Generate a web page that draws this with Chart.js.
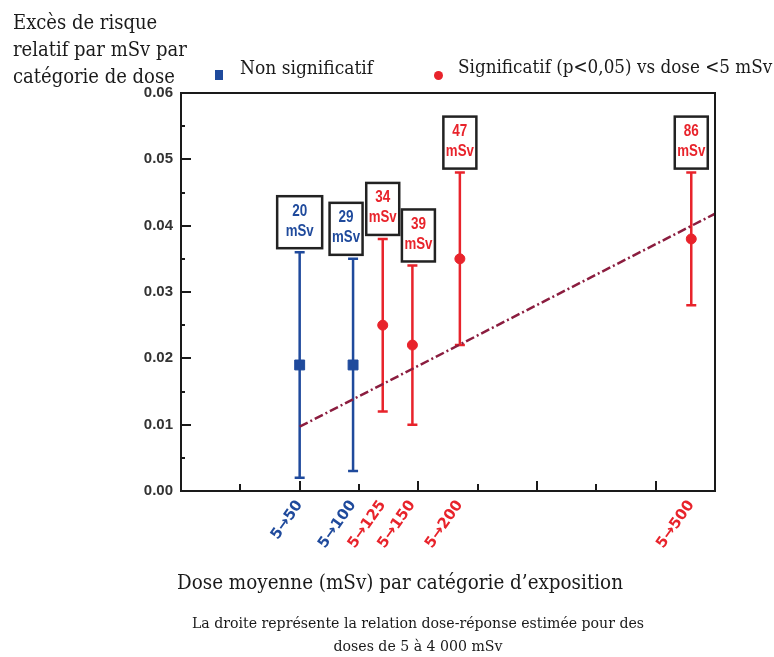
<!DOCTYPE html>
<html>
<head>
<meta charset="utf-8">
<script src="https://cdn.jsdelivr.net/npm/chart.js@4/dist/chart.umd.min.js"></script>
<style>
  body { margin: 0; background: #fff; overflow: hidden; }
  #wrap { position: relative; width: 774px; height: 657px; }
  canvas { position: absolute; left: 0; top: 0; }
  .txt { position: absolute; font-family: "DejaVu Serif Condensed", "DejaVu Serif", serif; font-stretch: condensed; color: #1a1a1a; white-space: nowrap; }
  #ytitle { left: 13px; top: 9px; font-size: 20px; line-height: 27px; }
  .leg { top: 56px; line-height: 22px; }
  .sw { position: absolute; }
  #xtitle { left: 100px; width: 600px; top: 568px; text-align: center; font-size: 20.4px; line-height: 28px; }
  #note { left: 118px; width: 600px; top: 611px; text-align: center; font-size: 15.7px; line-height: 23px; }
</style>
</head>
<body>
<div id="wrap">
  <canvas id="chart" width="774" height="657"></canvas>
  <div class="txt" id="ytitle">Excès de risque<br>relatif par mSv par<br>catégorie de dose</div>
  <div class="sw" style="left:215px;top:70px;width:8px;height:10px;background:#1f4a9c;"></div>
  <div class="txt leg" style="left:240px;font-size:19px;">Non significatif</div>
  <div class="sw" style="left:434px;top:71px;width:9px;height:9px;border-radius:50%;background:#e8232b;"></div>
  <div class="txt leg" style="left:458px;font-size:18.7px;">Significatif (p&lt;0,05) vs dose &lt;5 mSv</div>
  <div class="txt" id="xtitle">Dose moyenne (mSv) par catégorie d’exposition</div>
  <div class="txt" id="note">La droite représente la relation dose-réponse estimée pour des<br>doses de 5 à 4 000 mSv</div>
</div>
<script>
// mean dose per exposure category (mSv) and the category ranges
const meanDose = [20, 29, 34, 39, 47, 86];
const doseRange = ['5→50', '5→100', '5→125', '5→150', '5→200', '5→500'];
// excess relative risk per mSv, with lower / upper bounds
const errPerMsv = [0.019, 0.019, 0.025, 0.022, 0.035, 0.038];
const errLow = [0.002, 0.003, 0.012, 0.010, 0.022, 0.028];
const errHigh = [0.036, 0.035, 0.038, 0.034, 0.048, 0.048];
const significant = [false, false, true, true, true, true];
// estimated dose-response line (5 to 4000 mSv)
const fitDose = [20, 90];
const fitErr = [0.0097, 0.0418];

const BLUE = '#1f4a9c';
const RED = '#e8232b';
const INK = '#1a1a1a';

// box label nudges so neighbours don't overlap
const boxShift = [0, -7, 0, 6, 0, 0];
const boxWidth = [45, 33, 33, 33, 33, 33];

const pts = meanDose.map((d, i) => ({ x: d, y: errPerMsv[i] }));

const frameAndTicks = {
  id: 'frameAndTicks',
  afterDraw(chart) {
    const { ctx, chartArea: a, scales: { x, y } } = chart;
    ctx.save();
    ctx.strokeStyle = INK;
    ctx.lineWidth = 2;
    ctx.strokeRect(a.left, a.top, a.right - a.left, a.bottom - a.top);
    ctx.beginPath();
    for (let v = 10; v < 90; v += 10) {
      const px = Math.round(x.getPixelForValue(v));
      const len = v % 20 === 0 ? 10 : 7;
      ctx.moveTo(px, a.bottom);
      ctx.lineTo(px, a.bottom - len);
    }
    for (let k = 1; k < 12; k++) {
      const py = Math.round(y.getPixelForValue(k * 0.005));
      const len = k % 2 === 0 ? 10 : 4;
      ctx.moveTo(a.left, py);
      ctx.lineTo(a.left + len, py);
    }
    ctx.stroke();
    ctx.restore();
  }
};

const errorBars = {
  id: 'errorBars',
  beforeDatasetsDraw(chart) {
    const { ctx, scales: { x, y } } = chart;
    ctx.save();
    ctx.lineWidth = 2.5;
    meanDose.forEach((d, i) => {
      const px = x.getPixelForValue(d);
      const top = y.getPixelForValue(errHigh[i]);
      const bot = y.getPixelForValue(errLow[i]);
      ctx.strokeStyle = significant[i] ? RED : BLUE;
      ctx.beginPath();
      ctx.moveTo(px, top); ctx.lineTo(px, bot);
      ctx.moveTo(px - 5, top); ctx.lineTo(px + 5, top);
      ctx.moveTo(px - 5, bot); ctx.lineTo(px + 5, bot);
      ctx.stroke();
    });
    ctx.restore();
  }
};

const doseBoxes = {
  id: 'doseBoxes',
  afterDatasetsDraw(chart) {
    const { ctx, scales: { x, y } } = chart;
    ctx.save();
    ctx.textAlign = 'center';
    ctx.textBaseline = 'middle';
    ctx.font = 'bold 16px "Liberation Sans", Arial, sans-serif';
    meanDose.forEach((d, i) => {
      const cx = x.getPixelForValue(d) + boxShift[i];
      const bottom = y.getPixelForValue(errHigh[i]) - 4;
      const w = boxWidth[i], h = 52;
      ctx.fillStyle = '#fff';
      ctx.fillRect(cx - w / 2, bottom - h, w, h);
      ctx.lineWidth = 2.5;
      ctx.strokeStyle = '#222';
      ctx.strokeRect(cx - w / 2, bottom - h, w, h);
      ctx.fillStyle = significant[i] ? RED : BLUE;
      ctx.fillText(String(d), cx, bottom - h + 15, 15);
      ctx.fillText('mSv', cx, bottom - h + 35, 28);
    });
    ctx.restore();
  }
};

new Chart(document.getElementById('chart'), {
  type: 'scatter',
  data: {
    datasets: [
      {
        label: 'Relation dose-réponse',
        type: 'line',
        data: fitDose.map((d, i) => ({ x: d, y: fitErr[i] })),
        borderColor: '#8b1d3f',
        borderWidth: 2.5,
        borderDash: [9, 3, 2, 3],
        pointRadius: 0,
        fill: false,
        order: 0
      },
      {
        label: 'Non significatif',
        data: pts.filter((p, i) => !significant[i]),
        pointStyle: 'rect',
        pointRadius: 7,
        backgroundColor: BLUE,
        borderColor: BLUE,
        order: 1
      },
      {
        label: 'Significatif (p<0,05) vs dose <5 mSv',
        data: pts.filter((p, i) => significant[i]),
        pointStyle: 'circle',
        pointRadius: 5,
        backgroundColor: RED,
        borderColor: RED,
        order: 1
      }
    ]
  },
  options: {
    responsive: false,
    animation: false,
    devicePixelRatio: 1,
    layout: { padding: { top: 93, right: 59, left: 0, bottom: 0 } },
    plugins: { legend: { display: false }, tooltip: { enabled: false } },
    scales: {
      x: {
        type: 'linear',
        min: 0,
        max: 90,
        grid: { display: false, drawTicks: false },
        border: { display: false },
        afterBuildTicks: s => { s.ticks = meanDose.map(v => ({ value: v })); },
        afterFit: s => { s.height = 166; },
        ticks: {
          autoSkip: false,
          minRotation: 55,
          maxRotation: 55,
          padding: 6,
          font: { family: '"DejaVu Sans", sans-serif', size: 15, weight: 'bold' },
          color: c => significant[c.index] ? RED : BLUE,
          callback: (v, i) => doseRange[i]
        }
      },
      y: {
        min: 0,
        max: 0.06,
        grid: { display: false, drawTicks: false },
        border: { display: false },
        afterFit: s => { s.width = 181; },
        ticks: {
          stepSize: 0.01,
          padding: 8,
          font: { family: '"Liberation Sans", Arial, sans-serif', size: 15, weight: 'bold' },
          color: '#333',
          callback: v => v.toFixed(2)
        }
      }
    }
  },
  plugins: [errorBars, doseBoxes, frameAndTicks]
});
</script>
</body>
</html>
